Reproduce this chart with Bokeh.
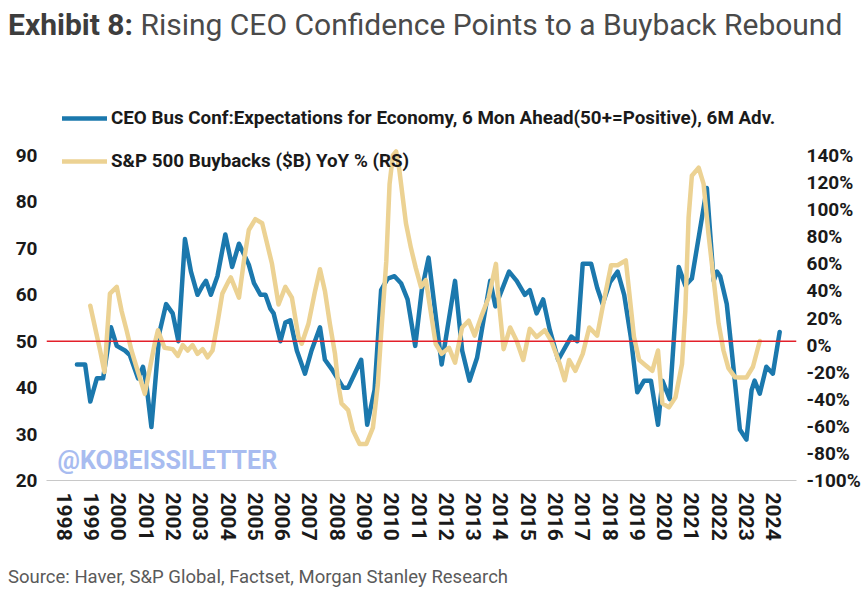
from bokeh.plotting import figure
from bokeh.models import (Range1d, LinearAxis, FixedTicker, PrintfTickFormatter, Span,
                          Label, Legend, LegendItem, Div)
from bokeh.layouts import column
from bokeh.embed import file_html
from bokeh.resources import INLINE

# ---------------- data ----------------
ceo_x = [1998.46, 1998.76, 1998.95, 1999.19, 1999.42, 1999.71, 1999.92, 2000.22, 2000.40, 2000.70,
         2000.88, 2001.00, 2001.19, 2001.49, 2001.73, 2001.97, 2002.18, 2002.42, 2002.64, 2002.88,
         2003.07, 2003.19, 2003.37, 2003.61, 2003.90, 2004.15, 2004.40, 2004.76, 2004.95, 2005.19,
         2005.37, 2005.55, 2005.67, 2005.92, 2006.10, 2006.28, 2006.52, 2006.82, 2007.06, 2007.37,
         2007.55, 2007.80, 2008.22, 2008.40, 2008.64, 2008.88, 2009.10, 2009.37, 2009.61, 2009.85,
         2010.10, 2010.34, 2010.58, 2010.86, 2011.10, 2011.35, 2011.83, 2012.32, 2012.58, 2012.85,
         2013.13, 2013.61, 2013.80, 2014.10, 2014.30, 2014.58, 2014.88, 2015.06, 2015.31, 2015.55,
         2015.79, 2016.10, 2016.34, 2016.58, 2016.80, 2017.00, 2017.31, 2017.53, 2017.73, 2018.00,
         2018.28, 2018.52, 2018.76, 2019.00, 2019.25, 2019.50, 2019.76, 2019.92, 2020.19, 2020.52,
         2020.76, 2021.00, 2021.55, 2021.80, 2021.92, 2022.04, 2022.28, 2022.46, 2022.76, 2023.00,
         2023.19, 2023.30, 2023.49, 2023.73, 2023.97, 2024.22]
ceo_y = [45, 45, 37, 42, 42, 53, 49, 48, 47, 42,
         44.5, 41, 31.5, 52, 58, 56, 50, 72, 65, 60,
         62, 63, 60, 64, 73, 66, 71, 66.5, 62.5, 60,
         60, 57, 56, 50, 54, 54.5, 48, 43, 48, 53,
         46, 44, 40, 40, 43, 46, 32, 39.5, 61, 63.5,
         64, 62.5, 59, 49, 61, 68, 45, 63, 48, 41.5,
         46.5, 63, 57.5, 62, 65, 63, 60, 61, 56, 59,
         52.5, 46, 48.5, 51, 50, 66.7, 66.7, 61.5, 58, 62.7,
         65, 60, 51, 39, 41.5, 41.5, 32, 41.5, 37.5, 66,
         62, 63.5, 83, 63, 65, 64, 58, 48, 31, 28.8,
         39.5, 41.5, 38.7, 44.5, 43, 52]

bb_x = [1998.95, 1999.31, 1999.47, 1999.67, 1999.92, 2000.10, 2000.28, 2000.46, 2000.64, 2000.95,
        2001.31, 2001.43, 2001.67, 2001.97, 2002.16, 2002.34, 2002.52, 2002.70, 2002.88, 2003.07,
        2003.25, 2003.43, 2003.61, 2003.79, 2004.04, 2004.10, 2004.40, 2004.58, 2004.76, 2005.00,
        2005.25, 2005.43, 2005.61, 2005.85, 2006.10, 2006.34, 2006.58, 2006.70, 2006.95, 2007.19,
        2007.37, 2007.55, 2007.73, 2007.92, 2008.04, 2008.16, 2008.40, 2008.58, 2008.82, 2009.07,
        2009.31, 2009.49, 2009.61, 2009.80, 2009.92, 2010.04, 2010.16, 2010.28, 2010.52, 2010.70,
        2010.88, 2011.07, 2011.25, 2011.61, 2011.83, 2012.10, 2012.32, 2012.58, 2012.82, 2013.04,
        2013.28, 2013.55, 2013.82, 2013.89, 2014.10, 2014.34, 2014.58, 2014.82, 2015.06, 2015.31,
        2015.61, 2015.85, 2016.16, 2016.34, 2016.50, 2016.73, 2017.00, 2017.24, 2017.53, 2017.73,
        2018.04, 2018.28, 2018.45, 2018.58, 2018.88, 2019.07, 2019.31, 2019.55, 2019.76, 2019.92,
        2020.16, 2020.40, 2020.64, 2020.76, 2020.88, 2021.00, 2021.25, 2021.43, 2021.61, 2021.79,
        2021.98, 2022.16, 2022.34, 2022.58, 2022.76, 2023.00, 2023.24, 2023.49]
bb_y = [29, -4, -20, 38, 43, 25, 11, -4, -16, -36,
        1, 11, -2, -3, -8, 0, -4, 0, -6.5, -3,
        -9, -4, 16, 38, 48, 50, 35, 62, 85, 93,
        90, 75, 60, 30, 43, 35, 6, 1, 16, 40,
        56, 40, 16, -6.5, -29, -43, -48, -63, -73, -73,
        -61, -29, 8, 62, 119, 140, 143, 129, 90, 72,
        57, 43, 48, 1, -6.5, -2, -13, 13, 18, 7,
        21, 35, 60, 40, -3, 13, 3, -11, 12, 6,
        11, 3, -14, -26, -11, -19, -6.5, 13, 7, 28,
        59, 59, 61, 62.5, 6, -11, -15, -19, -4, -43,
        -46, -38.5, -14, 25, 94, 125, 131, 119, 82, 50,
        16, -4, -17, -23.7, -24, -24, -16, 3]

year_ticks = list(range(1998, 2025))
left_ticks = [20, 30, 40, 50, 60, 70, 80, 90]
right_ticks = [-100, -80, -60, -40, -20, 0, 20, 40, 60, 80, 100, 120, 140]

ceo_label = "CEO Bus Conf:Expectations for Economy, 6 Mon Ahead(50+=Positive), 6M Adv."
bb_label = "S&P 500 Buybacks ($B) YoY % (RS)"
title_bold = "Exhibit 8:"
title_rest = "Rising CEO Confidence Points to a Buyback Rebound"
source_text = "Source: Haver, S&P Global, Factset, Morgan Stanley Research"
watermark = "@KOBEISSILETTER"

# ---------------- styling ----------------
BLUE = "#1b78ad"
GOLD = "#ecd293"
RED = "#e3202a"
FONT = "Roboto"

W = 863
TITLE_H = 50
FIG_H = 505
SRC_H = 591 - TITLE_H - FIG_H
FL, FR, FT, FB = 46, 61, 50, 75   # frame borders inside the figure

title_div = Div(text=f'<span style="font-weight:bold;color:#3d3d3d">{title_bold}</span> '
                     f'<span style="color:#4a4a4a">{title_rest}</span>',
                width=W, height=TITLE_H, margin=(0, 0, 0, 0),
                styles={"font-family": FONT, "font-size": "30px", "line-height": f"{TITLE_H}px",
                        "padding-left": "8px", "white-space": "nowrap", "box-sizing": "border-box"})

p = figure(width=W, height=FIG_H, output_backend="svg", toolbar_location=None,
           x_range=Range1d(1997.345, 2024.836), y_range=Range1d(20, 101.85),
           min_border_left=FL, min_border_right=FR, min_border_top=FT, min_border_bottom=FB,
           background_fill_color="white", border_fill_color="white", margin=(0, 0, 0, 0))
p.outline_line_color = None
p.xgrid.visible = False
p.ygrid.visible = False
p.extra_y_ranges = {"pct": Range1d(-100, 180.62)}

# left axis
ya = p.yaxis[0]
ya.ticker = FixedTicker(ticks=left_ticks)
ya.axis_line_color = None
ya.major_tick_line_color = None
ya.minor_tick_line_color = None
ya.major_label_standoff = 3
ya.major_label_text_font = FONT
ya.major_label_text_font_style = "bold"
ya.major_label_text_font_size = "19px"
ya.major_label_text_color = "#1a1a1a"

# right axis
ra = LinearAxis(y_range_name="pct", ticker=FixedTicker(ticks=right_ticks),
                formatter=PrintfTickFormatter(format="%d%%"))
ra.axis_line_color = None
ra.major_tick_line_color = None
ra.minor_tick_line_color = None
ra.major_label_standoff = 4
ra.major_label_text_font = FONT
ra.major_label_text_font_style = "bold"
ra.major_label_text_font_size = "19px"
ra.major_label_text_color = "#1a1a1a"
p.add_layout(ra, "right")

# bottom axis
xa = p.xaxis[0]
xa.ticker = FixedTicker(ticks=year_ticks)
xa.axis_line_color = "#c8c8c8"
xa.axis_line_width = 1
xa.major_tick_line_color = None
xa.minor_tick_line_color = None
xa.major_label_orientation = "vertical"
xa.major_label_standoff = 6
xa.major_label_text_font = FONT
xa.major_label_text_font_style = "bold"
xa.major_label_text_font_size = "21px"
xa.major_label_text_color = "#1a1a1a"

# reference line at 50 / 0%
p.add_layout(Span(location=50, dimension="width", line_color=RED, line_width=1.5))

# series
r_ceo = p.line(ceo_x, ceo_y, line_color=BLUE, line_width=4.5, line_join="round", line_cap="round")
r_bb = p.line(bb_x, bb_y, y_range_name="pct", line_color=GOLD, line_width=4.5,
              line_join="round", line_cap="round")

# legend (location = bottom-left corner, screen px from the frame's bottom-left)
legend = Legend(items=[LegendItem(label=ceo_label, renderers=[r_ceo]),
                       LegendItem(label=bb_label, renderers=[r_bb])],
                location=(16, 308), orientation="vertical",
                glyph_width=45, glyph_height=20, label_height=20, spacing=21,
                padding=0, margin=0, label_standoff=4,
                border_line_color=None, background_fill_alpha=0,
                label_text_font=FONT, label_text_font_style="bold",
                label_text_font_size="18.8px", label_text_color="#1a1a1a")
p.add_layout(legend, "center")

# watermark (inside the frame; screen units from the frame's bottom-left)
p.add_layout(Label(x=11, y=20, x_units="screen", y_units="screen", text=watermark,
                   text_font=FONT, text_font_size="25px", text_font_style="bold",
                   text_color="#a8bcf0", text_align="left", text_baseline="middle"))

source_div = Div(text=source_text, width=W, height=SRC_H, margin=(0, 0, 0, 0),
                 styles={"font-family": FONT, "font-size": "18.5px", "color": "#5a5a5a",
                         "line-height": "20px", "padding-left": "8px", "padding-top": "12px",
                         "white-space": "nowrap", "box-sizing": "border-box"})

layout = column(title_div, p, source_div, spacing=0)

open("out.html", "w").write(file_html(layout, INLINE))
